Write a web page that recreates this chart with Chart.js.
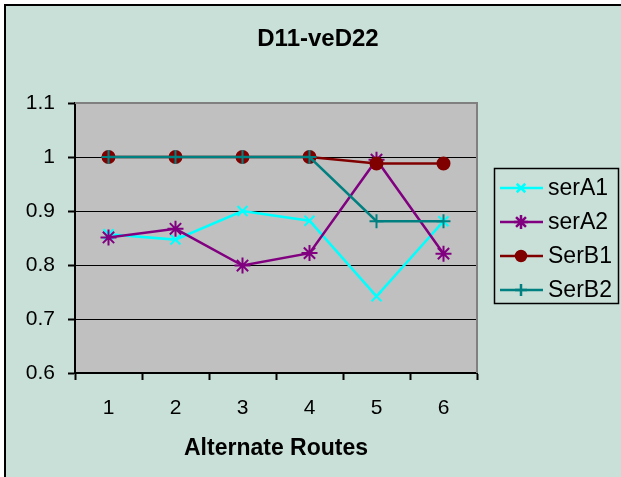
<!DOCTYPE html>
<html>
<head>
<meta charset="utf-8">
<script src="https://cdn.jsdelivr.net/npm/chart.js@4/dist/chart.umd.min.js"></script>
<style>
  html, body { margin: 0; padding: 0; background: #ffffff; overflow: hidden; }
  body { width: 621px; height: 477px; position: relative; }
  #frame {
    position: absolute; left: 4px; top: 4px; width: 620px; height: 480px;
    border-left: 2.5px solid #000; border-top: 2.5px solid #000;
    background: #c9e0d8;
  }
  #chartBox { position: absolute; left: 0; top: 0; width: 621px; height: 477px; }
</style>
</head>
<body>
<div id="frame"></div>
<div id="chartBox"><canvas id="routesChart" width="621" height="477"></canvas></div>
<script>
// datos
const categorias = ['1', '2', '3', '4', '5', '6'];
const yTicks = [0.6, 0.7, 0.8, 0.9, 1, 1.1];

const serA1 = [0.857, 0.847, 0.900, 0.882, 0.742, 0.881];
const serA2 = [0.851, 0.867, 0.799, 0.822, 0.995, 0.821];
const serB1 = [1, 1, 1, 1, 0.988, 0.988];
const serB2 = [1, 1, 1, 1, 0.881, 0.881];

// fondo gris del area de trazado y borde superior/derecho
const plotAreaPlugin = {
    id: 'plotArea',
    beforeDraw(chart) {
        const { ctx, chartArea: a } = chart;
        ctx.save();
        ctx.fillStyle = '#c0c0c0';
        ctx.fillRect(a.left, a.top, a.right - a.left, a.bottom - a.top);
        ctx.restore();
    },
    beforeDatasetsDraw(chart) {
        const { ctx, chartArea: a } = chart;
        ctx.save();
        ctx.strokeStyle = '#808080';
        ctx.lineWidth = 2;
        ctx.beginPath();
        ctx.moveTo(a.left, a.top);
        ctx.lineTo(a.right, a.top);
        ctx.lineTo(a.right, a.bottom);
        ctx.stroke();
        ctx.restore();
    }
};

// titulo y leyenda con recuadro, al estilo Excel
const excelDecorPlugin = {
    id: 'excelDecor',
    afterDraw(chart) {
        const ctx = chart.ctx;
        ctx.save();
        ctx.fillStyle = '#000';
        ctx.font = 'bold 24px "Liberation Sans", Arial, sans-serif';
        ctx.textAlign = 'center';
        ctx.textBaseline = 'middle';
        ctx.fillText('D11-veD22', 318, 39);

        // recuadro de la leyenda
        ctx.strokeStyle = '#000';
        ctx.lineWidth = 1.5;
        ctx.strokeRect(494.5, 168.5, 124, 135);

        chart.data.datasets.forEach((ds, i) => {
            const y = 188 + i * 34;
            ctx.strokeStyle = ds.borderColor;
            ctx.lineWidth = ds.borderWidth;
            ctx.beginPath();
            ctx.moveTo(500, y);
            ctx.lineTo(543, y);
            ctx.stroke();
            ctx.fillStyle = ds.pointBackgroundColor;
            ctx.strokeStyle = ds.pointBorderColor;
            Chart.helpers.drawPoint(ctx, {
                pointStyle: ds.pointStyle,
                radius: ds.pointRadius - 1,
                borderWidth: ds.pointBorderWidth,
                rotation: 0
            }, 521, y);
            ctx.fillStyle = '#000';
            ctx.font = '23px "Liberation Sans", Arial, sans-serif';
            ctx.textAlign = 'left';
            ctx.textBaseline = 'middle';
            ctx.fillText(ds.label, 548, y + 1);
        });
        ctx.restore();
    }
};

function serie(label, data, color, pointStyle, radius, order) {
    return {
        label,
        data,
        borderColor: color,
        backgroundColor: color,
        borderWidth: 2.5,
        pointStyle,
        pointRadius: radius,
        pointHoverRadius: radius,
        pointBorderWidth: 2,
        pointBackgroundColor: color,
        pointBorderColor: color,
        tension: 0,
        order
    };
}

const ctx = document.getElementById('routesChart').getContext('2d');
new Chart(ctx, {
    type: 'line',
    data: {
        labels: categorias,
        datasets: [
            serie('serA1', serA1, '#00ffff', 'crossRot', 7, 4),
            serie('serA2', serA2, '#800080', 'star', 8, 3),
            serie('SerB1', serB1, '#800000', 'circle', 6, 2),
            serie('SerB2', serB2, '#008080', 'cross', 7, 1)
        ]
    },
    options: {
        responsive: false,
        animation: false,
        maintainAspectRatio: false,
        devicePixelRatio: 1,
        layout: { padding: { top: 103, right: 144, left: 0, bottom: 0 } },
        plugins: {
            legend: { display: false },
            title: { display: false },
            tooltip: { enabled: false }
        },
        scales: {
            x: {
                type: 'category',
                offset: true,
                afterFit: (scale) => { scale.height = 104; },
                grid: {
                    offset: true,
                    drawOnChartArea: false,
                    tickLength: 7,
                    tickColor: '#000',
                    tickWidth: 2
                },
                border: { display: true, color: '#000', width: 2 },
                ticks: {
                    color: '#000',
                    padding: 16,
                    font: { family: '"Liberation Sans", Arial, sans-serif', size: 21 }
                },
                title: {
                    display: true,
                    text: 'Alternate Routes',
                    color: '#000',
                    padding: { top: 0, bottom: 15 },
                    font: { family: '"Liberation Sans", Arial, sans-serif', size: 23, weight: 'bold' }
                }
            },
            y: {
                min: 0.6,
                max: 1.1,
                afterFit: (scale) => { scale.width = 75; },
                afterBuildTicks: (scale) => { scale.ticks = yTicks.map(v => ({ value: v })); },
                grid: {
                    color: (c) => (c.tick && (c.tick.value === 1.1 || c.tick.value === 0.6)) ? 'rgba(0,0,0,0)' : '#000',
                    lineWidth: 1,
                    tickLength: 7,
                    tickColor: '#000',
                    tickWidth: 2
                },
                border: { display: true, color: '#000', width: 2 },
                ticks: {
                    color: '#000',
                    padding: 13,
                    callback: (v) => String(v),
                    font: { family: '"Liberation Sans", Arial, sans-serif', size: 21 }
                }
            }
        }
    },
    plugins: [plotAreaPlugin, excelDecorPlugin]
});
</script>
</body>
</html>
